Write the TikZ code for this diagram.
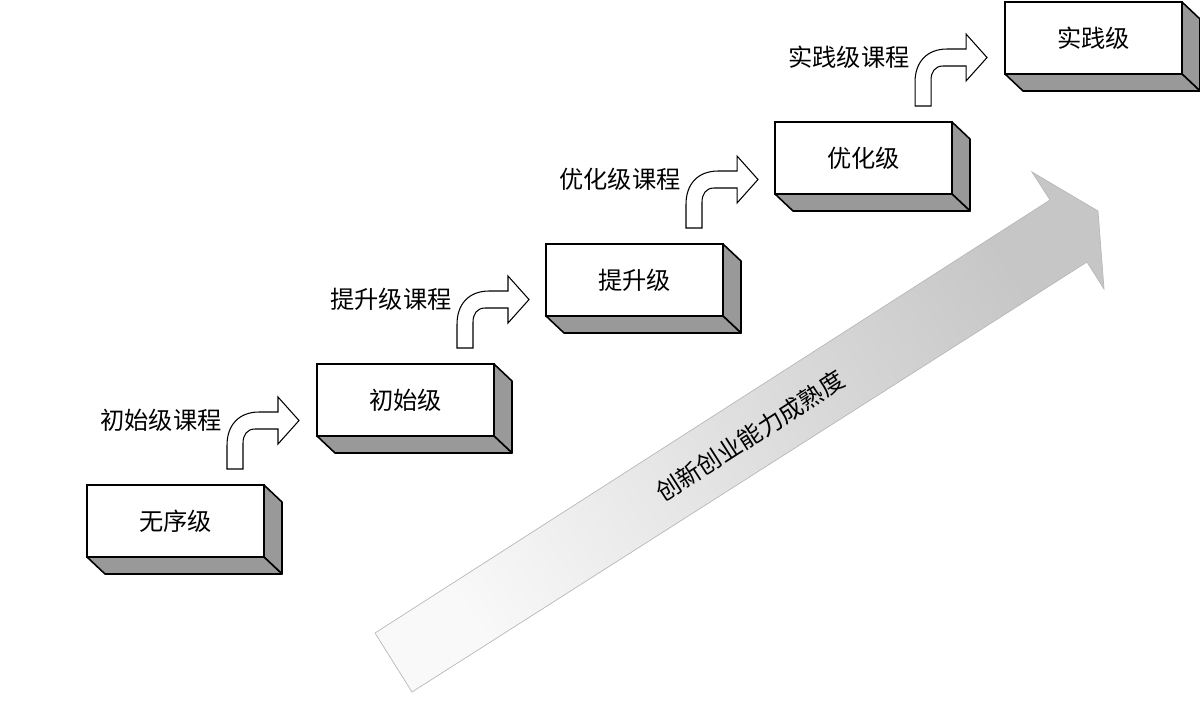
\documentclass[tikz,border=0pt]{standalone}
\usepackage{fontspec}
\newfontfamily\cjk{Noto Sans CJK SC}
\usetikzlibrary{calc}
\definecolor{sidegray}{HTML}{999999}
\definecolor{bigedge}{HTML}{B8B8B8}
\tikzset{
  stepbox/.style={draw=black, line width=0.9pt, fill=white, minimum width=3.54cm,
    minimum height=1.44cm, inner sep=0pt, outer sep=0pt,
    font=\cjk\fontsize{13.8}{16}\selectfont},
  sideface/.style={draw=black, line width=0.9pt, fill=sidegray, line join=round},
  curvearrow/.style={draw=black, line width=0.6pt, fill=white, line join=miter},
  lbl/.style={inner sep=0pt, font=\cjk\fontsize{13.8}{16}\selectfont},
}
\newcommand\boxsides[1]{%
  \path[sideface] (#1.north east) -- ++(18,17) -- ++(0,72) -- (#1.south east) -- cycle;
  \path[sideface] (#1.south west) -- ++(18,17) -- ++(177,0) -- (#1.south east) -- cycle;
}
\newcommand\turnarrow[1]{%
  \begin{scope}[shift={(#1.north west)}]
    \path[curvearrow] (140,-16) -- (140,-40) .. controls (140,-60) and (152,-73) .. (172,-73)
      -- (191,-73) -- (191,-88) -- (212,-64.5) -- (191,-41) -- (191,-56) -- (168,-56)
      .. controls (160,-56) and (156,-50) .. (156,-42) -- (156,-16) -- cycle;
  \end{scope}
}
\begin{document}
\begin{tikzpicture}[x=0.02cm,y=-0.02cm]
\useasboundingbox (0,0) rectangle (1200,721);
% big maturity arrow
\shade[top color=gray!45, bottom color=gray!5, shading angle=-57.3, draw=bigedge, line width=0.4pt]
  (375,633) -- (1050,200) -- (1032,172) -- (1098,211) -- (1104,289) -- (1087,262) -- (412,692) -- cycle;
\node[lbl, rotate=32.7] (maturity) at (750,436) {创新创业能力成熟度};
% boxes
\node[stepbox] (b1) at (175.5,521) {无序级};
\node[stepbox] (b2) at (405.5,400) {初始级};
\node[stepbox] (b3) at (634.5,280) {提升级};
\node[stepbox] (b4) at (863.5,158) {优化级};
\node[stepbox] (b5) at (1093.5,38) {实践级};
\boxsides{b1}
\boxsides{b2}
\boxsides{b3}
\boxsides{b4}
\boxsides{b5}
% turning arrows
\turnarrow{b1}
\turnarrow{b2}
\turnarrow{b3}
\turnarrow{b4}
% course labels
\node[lbl] (c1) at ($(b1.north west)+(74,-65)$) {初始级课程};
\node[lbl] (c2) at ($(b2.north west)+(74,-65)$) {提升级课程};
\node[lbl] (c3) at ($(b3.north west)+(74,-65)$) {优化级课程};
\node[lbl] (c4) at ($(b4.north west)+(74,-65)$) {实践级课程};
\end{tikzpicture}
\end{document}
